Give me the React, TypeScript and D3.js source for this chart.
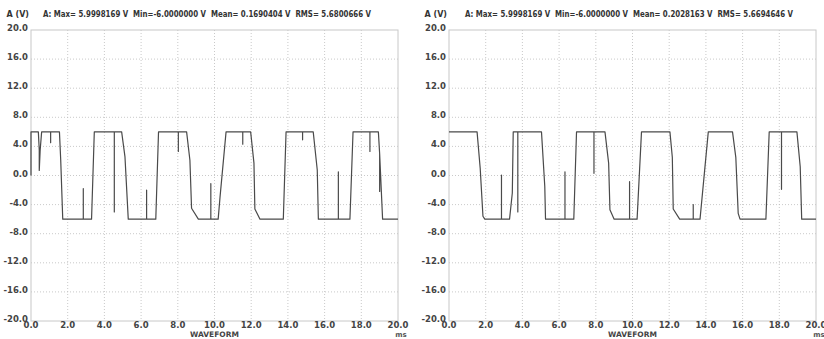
import React from "react";
import * as d3 from "d3";

// left capture
const leftT = [0, 0, 0.4, 0.45, 0.45, 0.5, 0.58, 1.07, 1.07, 1.07, 1.55, 1.62, 1.73, 2.85, 2.85, 2.85, 3.3, 3.45, 4.54, 4.54, 4.54, 4.94, 5.12, 5.3, 6.3, 6.3, 6.3, 6.8, 6.95, 8.03, 8.03, 8.03, 8.48, 8.66, 8.75, 9.12, 9.8, 9.8, 9.8, 10.2, 10.3, 10.63, 11.54, 11.54, 11.54, 11.97, 12.15, 12.2, 12.48, 13.75, 13.9, 14.8, 14.8, 14.8, 15.38, 15.6, 15.66, 16.75, 16.75, 16.75, 17.38, 17.55, 18.47, 18.47, 18.47, 18.93, 19.0, 19.0, 19.0, 19.16, 20];
const leftV = [0, 6, 6, 3.5, 0.7, 3.5, 6, 6, 4.5, 6, 6, 2.1, -6, -6, -1.8, -6, -6, 6, 6, -5, 6, 6, 2.6, -6, -6, -2, -6, -6, 6, 6, 3.3, 6, 6, 2.1, -4.5, -6, -6, -1.1, -6, -6, -3, 6, 6, 4.3, 6, 6, 1.7, -4.6, -6, -6, 6, 6, 4.9, 6, 6, 0.75, -6, -6, 0.5, -6, -6, 6, 6, 3.3, 6, 6, 3, -2.2, 3, -6, -6];

// right capture
const rightT = [0, 1.53, 1.7, 1.85, 1.95, 2.86, 2.86, 2.86, 3.3, 3.45, 3.5, 3.75, 3.75, 3.75, 5.04, 5.22, 5.26, 6.32, 6.32, 6.32, 6.8, 6.95, 7.9, 7.9, 7.9, 8.5, 8.7, 8.77, 9.0, 9.84, 9.84, 9.84, 10.25, 10.49, 12.04, 12.17, 12.22, 12.57, 13.31, 13.31, 13.31, 13.68, 14.13, 15.45, 15.63, 15.76, 15.86, 17.27, 17.45, 18.12, 18.12, 18.12, 18.96, 19.14, 19.22, 20];
const rightV = [6, 6, 1, -5.6, -6, -6, 0.07, -6, -6, -2.4, 6, 6, -5, 6, 6, -1.5, -6, -6, 0.5, -6, -6, 6, 6, 0.3, 6, 6, 1.7, -4.7, -6, -6, -0.85, -6, -6, 6, 6, 2.5, -4.6, -6, -6, -4, -6, -6, 6, 6, 2.5, -5.2, -6, -6, 6, 6, -1.9, 6, 6, 1.2, -6, -6];

const xTicks = [0, 2, 4, 6, 8, 10, 12, 14, 16, 18, 20];
const yTicks = [20, 16, 12, 8, 4, 0, -4, -8, -12, -16, -20];

const leftStats = "A: Max= 5.9998169 V  Min=-6.0000000 V  Mean= 0.1690404 V  RMS= 5.6800666 V";
const rightStats = "A: Max= 5.9998169 V  Min=-6.0000000 V  Mean= 0.2028163 V  RMS= 5.6694646 V";

const FONT = "'DejaVu Sans', sans-serif";

function Panel({ x0, t, v, stats, statsX }: { x0: number; t: number[]; v: number[]; stats: string; statsX: number }) {
  const W = 367;
  const top = 30;
  const bottom = 321;
  const x = d3.scaleLinear().domain([0, 20]).range([x0, x0 + W]);
  const y = d3.scaleLinear().domain([-20, 20]).range([bottom, top]);
  const pts: [number, number][] = t.map((d, i) => [d, v[i]]);
  const line = d3
    .line<[number, number]>()
    .x((d) => x(d[0]))
    .y((d) => y(d[1]));

  return (
    <g fontFamily={FONT}>
      <text x={x0 - 2} y={17} textAnchor="end" fontSize={8} fontWeight="bold" fill="#333">
        A (V)
      </text>
      <text x={statsX} y={17} fontSize={8} fontWeight="bold" fill="#333" textLength={328} lengthAdjust="spacingAndGlyphs" style={{ whiteSpace: "pre" }}>
        {stats}
      </text>
      {xTicks.slice(1, -1).map((d) => (
        <line key={"gx" + d} x1={x(d)} x2={x(d)} y1={top} y2={bottom} stroke="#bbb" strokeWidth={0.8} strokeDasharray="1,2" />
      ))}
      {yTicks.slice(1, -1).map((d) => (
        <line key={"gy" + d} x1={x0} x2={x0 + W} y1={y(d)} y2={y(d)} stroke="#bbb" strokeWidth={0.8} strokeDasharray="1,2" />
      ))}
      <rect x={x0} y={top} width={W} height={bottom - top} fill="none" stroke="#c8c8c8" strokeWidth={1} />
      {yTicks.map((d) => (
        <text key={"ly" + d} x={x0 - 3} y={y(d) + 1} textAnchor="end" fontSize={8.5} fontWeight="bold" fill="#444">
          {d.toFixed(1)}
        </text>
      ))}
      {xTicks.map((d) => (
        <text key={"lx" + d} x={x(d)} y={328} textAnchor="middle" fontSize={8.5} fontWeight="bold" fill="#444">
          {d.toFixed(1)}
        </text>
      ))}
      <text x={x(20) + 3} y={337} textAnchor="middle" fontSize={7} fontWeight="bold" fill="#555">
        ms
      </text>
      <text x={x(10)} y={337} textAnchor="middle" fontSize={7.5} fontWeight="bold" fill="#444">
        WAVEFORM
      </text>
      <path d={line(pts) ?? ""} fill="none" stroke="#4a4a4a" strokeWidth={1.2} strokeLinejoin="round" />
    </g>
  );
}

export default function App() {
  return (
    <div style={{ position: "absolute", left: 0, top: 0 }}>
      <svg width={824} height={339} style={{ display: "block", background: "#fff" }}>
        <Panel x0={31} t={leftT} v={leftV} stats={leftStats} statsX={43} />
        <Panel x0={449} t={rightT} v={rightV} stats={rightStats} statsX={465} />
      </svg>
    </div>
  );
}
